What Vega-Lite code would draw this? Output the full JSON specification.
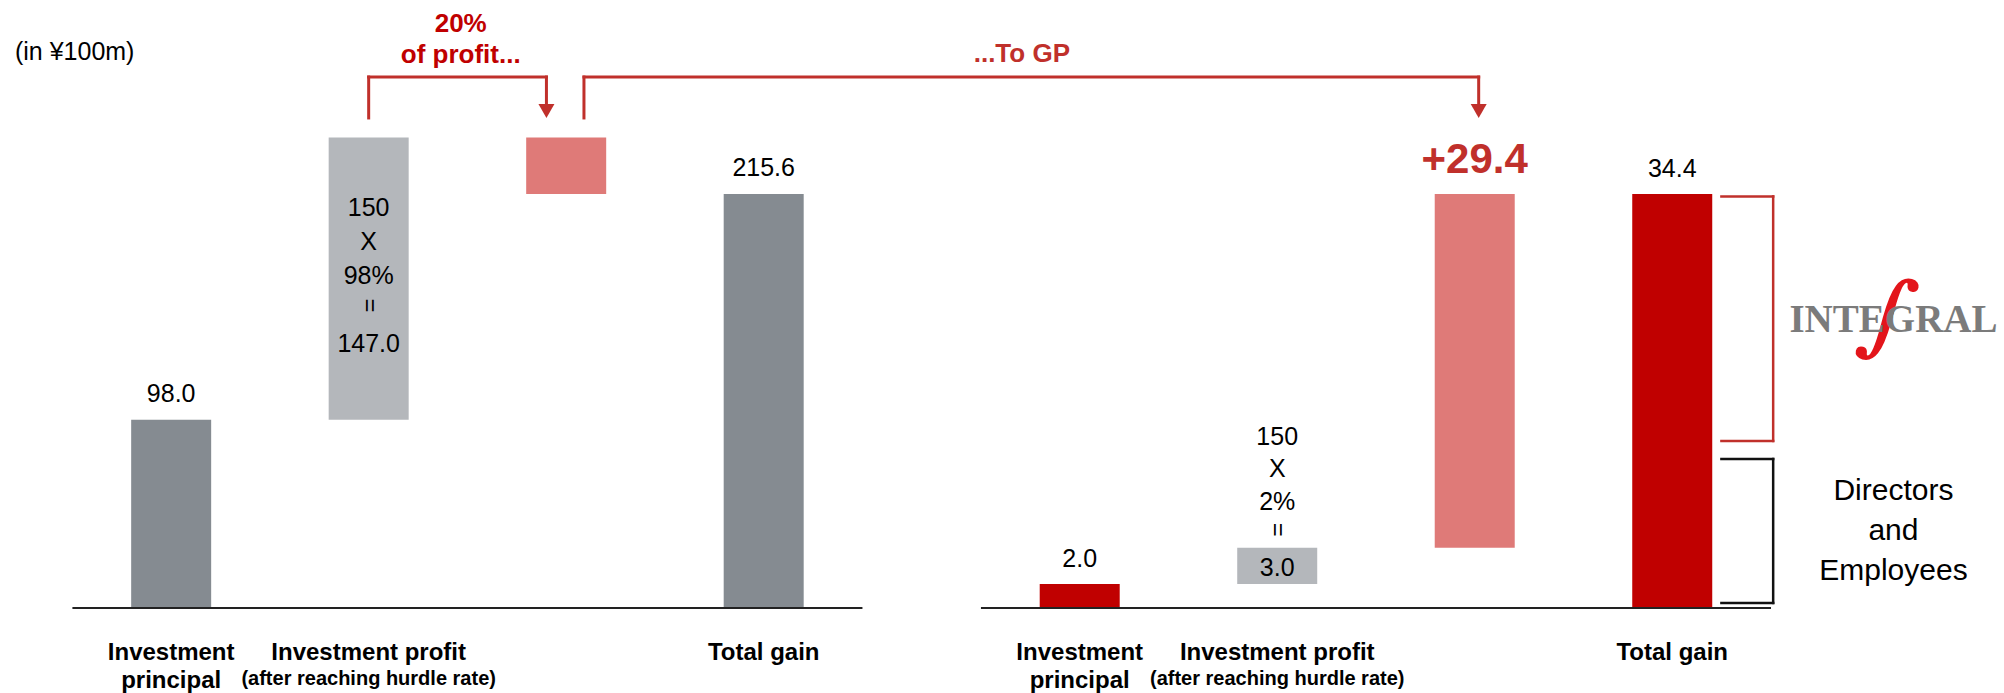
{
  "$schema": "https://vega.github.io/schema/vega-lite/v6.json",
  "width": 2004,
  "height": 693,
  "padding": 0,
  "autosize": {"type": "none"},
  "background": "white",
  "config": {"view": {"stroke": null}, "font": "Liberation Sans", "text": {"font": "Liberation Sans", "color": "#000000"}},
  "datasets": {
    "left": [
      {"step": "Investment principal", "pos": 0, "start": 0, "end": 98, "kind": "base", "label": "98.0"},
      {"step": "Investment profit", "pos": 1, "start": 98, "end": 245, "kind": "profit", "label": "147.0", "formula": "150\nX\n98%"},
      {"step": "Carried interest", "pos": 2, "start": 215.6, "end": 245, "kind": "carry", "label": "29.4"},
      {"step": "Total gain", "pos": 3, "start": 0, "end": 215.6, "kind": "base", "label": "215.6"}
    ],
    "right": [
      {"step": "Investment principal", "pos": 4.6, "start": 0, "end": 2, "kind": "lp", "label": "2.0"},
      {"step": "Investment profit", "pos": 5.6, "start": 2, "end": 5, "kind": "profit", "label": "3.0", "formula": "150\nX\n2%"},
      {"step": "Carried interest", "pos": 6.6, "start": 5, "end": 34.4, "kind": "carry", "label": "+29.4"},
      {"step": "Total gain", "pos": 7.6, "start": 0, "end": 34.4, "kind": "lp", "label": "34.4"}
    ],
    "cats": [
      {"pos": 0, "name": "Investment\nprincipal", "sub": ""},
      {"pos": 1, "name": "Investment profit", "sub": "(after reaching hurdle rate)"},
      {"pos": 3, "name": "Total gain", "sub": ""},
      {"pos": 4.6, "name": "Investment\nprincipal", "sub": ""},
      {"pos": 5.6, "name": "Investment profit", "sub": "(after reaching hurdle rate)"},
      {"pos": 7.6, "name": "Total gain", "sub": ""}
    ],
    "notes": [
      {"id": "unit", "text": "(in ¥100m)"},
      {"id": "share", "text": "20%\nof profit..."},
      {"id": "gp", "text": "...To GP"},
      {"id": "integral", "text": "∫"},
      {"id": "logo", "text": "INTEGRAL"},
      {"id": "staff", "text": "Directors\nand\nEmployees"}
    ]
  },
  "resolve": {"scale": {"y": "independent"}},
  "layer": [
    {
      "data": {"name": "left"},
      "layer": [
        {
          "mark": {"type": "bar", "width": 80},
          "encoding": {
            "x": {"field": "pos", "type": "quantitative", "scale": {"domain": [-0.8413, 9.2544], "nice": false, "zero": false}, "axis": null},
            "y": {"field": "end", "type": "quantitative", "scale": {"domain": [-44.27, 316.63], "nice": false, "zero": false}, "axis": null},
            "y2": {"field": "start"},
            "color": {"field": "kind", "type": "nominal", "scale": {"domain": ["base", "profit", "carry", "lp"], "range": ["#858B91", "#B4B7BB", "#DF7A78", "#C00000"]}, "legend": null}
          }
        },
        {
          "transform": [{"filter": "datum.kind == 'base'"}],
          "mark": {"type": "text", "fontSize": 25, "dy": -18, "baseline": "alphabetic", "align": "center"},
          "encoding": {
            "x": {"field": "pos", "type": "quantitative", "scale": {"domain": [-0.8413, 9.2544], "nice": false, "zero": false}, "axis": null},
            "y": {"field": "end", "type": "quantitative", "scale": {"domain": [-44.27, 316.63], "nice": false, "zero": false}, "axis": null},
            "text": {"field": "label", "type": "nominal"}
          }
        },
        {
          "transform": [{"filter": "datum.kind == 'profit'"}],
          "mark": {"type": "text", "fontSize": 25, "dy": 78, "baseline": "alphabetic", "align": "center", "lineBreak": "\n", "lineHeight": 34},
          "encoding": {
            "x": {"field": "pos", "type": "quantitative", "scale": {"domain": [-0.8413, 9.2544], "nice": false, "zero": false}, "axis": null},
            "y": {"field": "end", "type": "quantitative", "scale": {"domain": [-44.27, 316.63], "nice": false, "zero": false}, "axis": null},
            "text": {"field": "formula", "type": "nominal"}
          }
        },
        {
          "transform": [{"filter": "datum.kind == 'profit'"}],
          "mark": {"type": "text", "fontSize": 24, "dx": 168, "dy": 0, "angle": 90, "baseline": "middle", "align": "center"},
          "encoding": {
            "x": {"field": "pos", "type": "quantitative", "scale": {"domain": [-0.8413, 9.2544], "nice": false, "zero": false}, "axis": null},
            "y": {"field": "end", "type": "quantitative", "scale": {"domain": [-44.27, 316.63], "nice": false, "zero": false}, "axis": null},
            "text": {"value": "="}
          }
        },
        {
          "transform": [{"filter": "datum.kind == 'profit'"}],
          "mark": {"type": "text", "fontSize": 25, "dy": 214, "baseline": "alphabetic", "align": "center"},
          "encoding": {
            "x": {"field": "pos", "type": "quantitative", "scale": {"domain": [-0.8413, 9.2544], "nice": false, "zero": false}, "axis": null},
            "y": {"field": "end", "type": "quantitative", "scale": {"domain": [-44.27, 316.63], "nice": false, "zero": false}, "axis": null},
            "text": {"field": "label", "type": "nominal"}
          }
        },
        {
          "data": {"name": "cats"},
          "mark": {"type": "text", "fontSize": 24, "fontWeight": "bold", "baseline": "alphabetic", "align": "center", "lineBreak": "\n", "lineHeight": 28},
          "encoding": {
            "x": {"field": "pos", "type": "quantitative", "scale": {"domain": [-0.8413, 9.2544], "nice": false, "zero": false}, "axis": null},
            "y": {"datum": -27.08, "scale": {"domain": [-44.27, 316.63], "nice": false, "zero": false}, "axis": null},
            "text": {"field": "name", "type": "nominal"}
          }
        },
        {
          "data": {"name": "cats"},
          "transform": [{"filter": "datum.sub != ''"}],
          "mark": {"type": "text", "fontSize": 20, "fontWeight": "bold", "baseline": "alphabetic", "align": "center"},
          "encoding": {
            "x": {"field": "pos", "type": "quantitative", "scale": {"domain": [-0.8413, 9.2544], "nice": false, "zero": false}, "axis": null},
            "y": {"datum": -40.1, "scale": {"domain": [-44.27, 316.63], "nice": false, "zero": false}, "axis": null},
            "text": {"field": "sub", "type": "nominal"}
          }
        },
        {
          "data": {"values": [{}]},
          "mark": {"type": "rule", "color": "#222222", "strokeWidth": 2},
          "encoding": {
            "x": {"datum": -0.5, "scale": {"domain": [-0.8413, 9.2544], "nice": false, "zero": false}, "axis": null},
            "x2": {"datum": 3.5},
            "y": {"datum": 0, "scale": {"domain": [-44.27, 316.63], "nice": false, "zero": false}, "axis": null}
          }
        },
        {
          "data": {"name": "notes"},
          "transform": [{"filter": "datum.id == 'unit'"}],
          "mark": {"type": "text", "fontSize": 25, "align": "left", "baseline": "alphabetic"},
          "encoding": {
            "x": {"datum": -0.791, "scale": {"domain": [-0.8413, 9.2544], "nice": false, "zero": false}, "axis": null},
            "y": {"datum": 285.4, "scale": {"domain": [-44.27, 316.63], "nice": false, "zero": false}, "axis": null},
            "text": {"field": "text", "type": "nominal"}
          }
        },
        {
          "data": {"name": "notes"},
          "transform": [{"filter": "datum.id == 'share'"}],
          "mark": {"type": "text", "fontSize": 26, "fontWeight": "bold", "color": "#C00000", "align": "center", "baseline": "alphabetic", "lineBreak": "\n", "lineHeight": 31},
          "encoding": {
            "x": {"datum": 1.466, "scale": {"domain": [-0.8413, 9.2544], "nice": false, "zero": false}, "axis": null},
            "y": {"datum": 300.0, "scale": {"domain": [-44.27, 316.63], "nice": false, "zero": false}, "axis": null},
            "text": {"field": "text", "type": "nominal"}
          }
        },
        {
          "data": {"name": "notes"},
          "transform": [{"filter": "datum.id == 'gp'"}],
          "mark": {"type": "text", "fontSize": 26, "fontWeight": "bold", "color": "#C0302B", "align": "center", "baseline": "alphabetic"},
          "encoding": {
            "x": {"datum": 4.307, "scale": {"domain": [-0.8413, 9.2544], "nice": false, "zero": false}, "axis": null},
            "y": {"datum": 284.3, "scale": {"domain": [-44.27, 316.63], "nice": false, "zero": false}, "axis": null},
            "text": {"field": "text", "type": "nominal"}
          }
        },
        {
          "data": {"values": [{}]},
          "mark": {"type": "rule", "color": "#C0302B", "strokeWidth": 3, "strokeCap": "square"},
          "encoding": {
            "x": {"datum": 1.0, "scale": {"domain": [-0.8413, 9.2544], "nice": false, "zero": false}, "axis": null},
            "y": {"datum": 255.2, "scale": {"domain": [-44.27, 316.63], "nice": false, "zero": false}, "axis": null},
            "y2": {"datum": 276.5}
          }
        },
        {
          "data": {"values": [{}]},
          "mark": {"type": "rule", "color": "#C0302B", "strokeWidth": 3, "strokeCap": "square"},
          "encoding": {
            "x": {"datum": 1.0, "scale": {"domain": [-0.8413, 9.2544], "nice": false, "zero": false}, "axis": null},
            "x2": {"datum": 1.9},
            "y": {"datum": 276.5, "scale": {"domain": [-44.27, 316.63], "nice": false, "zero": false}, "axis": null}
          }
        },
        {
          "data": {"values": [{}]},
          "mark": {"type": "rule", "color": "#C0302B", "strokeWidth": 3, "strokeCap": "square"},
          "encoding": {
            "x": {"datum": 1.9, "scale": {"domain": [-0.8413, 9.2544], "nice": false, "zero": false}, "axis": null},
            "y": {"datum": 258.8, "scale": {"domain": [-44.27, 316.63], "nice": false, "zero": false}, "axis": null},
            "y2": {"datum": 276.5}
          }
        },
        {
          "data": {"values": [{}]},
          "mark": {"type": "rule", "color": "#C0302B", "strokeWidth": 3, "strokeCap": "square"},
          "encoding": {
            "x": {"datum": 2.09, "scale": {"domain": [-0.8413, 9.2544], "nice": false, "zero": false}, "axis": null},
            "y": {"datum": 255.2, "scale": {"domain": [-44.27, 316.63], "nice": false, "zero": false}, "axis": null},
            "y2": {"datum": 276.5}
          }
        },
        {
          "data": {"values": [{}]},
          "mark": {"type": "rule", "color": "#C0302B", "strokeWidth": 3, "strokeCap": "square"},
          "encoding": {
            "x": {"datum": 2.09, "scale": {"domain": [-0.8413, 9.2544], "nice": false, "zero": false}, "axis": null},
            "x2": {"datum": 6.62},
            "y": {"datum": 276.5, "scale": {"domain": [-44.27, 316.63], "nice": false, "zero": false}, "axis": null}
          }
        },
        {
          "data": {"values": [{}]},
          "mark": {"type": "rule", "color": "#C0302B", "strokeWidth": 3, "strokeCap": "square"},
          "encoding": {
            "x": {"datum": 6.62, "scale": {"domain": [-0.8413, 9.2544], "nice": false, "zero": false}, "axis": null},
            "y": {"datum": 258.8, "scale": {"domain": [-44.27, 316.63], "nice": false, "zero": false}, "axis": null},
            "y2": {"datum": 276.5}
          }
        },
        {
          "data": {"values": [{"at": 1.9}, {"at": 6.62}]},
          "mark": {"type": "point", "shape": "triangle-down", "filled": true, "size": 256, "color": "#C0302B", "opacity": 1, "strokeWidth": 0},
          "encoding": {
            "x": {"field": "at", "type": "quantitative", "scale": {"domain": [-0.8413, 9.2544], "nice": false, "zero": false}, "axis": null},
            "y": {"datum": 258.8, "scale": {"domain": [-44.27, 316.63], "nice": false, "zero": false}, "axis": null}
          }
        }
      ]
    },
    {
      "data": {"name": "right"},
      "layer": [
        {
          "mark": {"type": "bar", "width": 80},
          "encoding": {
            "x": {"field": "pos", "type": "quantitative", "scale": {"domain": [-0.8413, 9.2544], "nice": false, "zero": false}, "axis": null},
            "y": {"field": "end", "type": "quantitative", "scale": {"domain": [-7.063, 50.52], "nice": false, "zero": false}, "axis": null},
            "y2": {"field": "start"},
            "color": {"field": "kind", "type": "nominal", "scale": {"domain": ["base", "profit", "carry", "lp"], "range": ["#858B91", "#B4B7BB", "#DF7A78", "#C00000"]}, "legend": null}
          }
        },
        {
          "transform": [{"filter": "datum.kind == 'lp'"}],
          "mark": {"type": "text", "fontSize": 25, "dy": -17, "baseline": "alphabetic", "align": "center"},
          "encoding": {
            "x": {"field": "pos", "type": "quantitative", "scale": {"domain": [-0.8413, 9.2544], "nice": false, "zero": false}, "axis": null},
            "y": {"field": "end", "type": "quantitative", "scale": {"domain": [-7.063, 50.52], "nice": false, "zero": false}, "axis": null},
            "text": {"field": "label", "type": "nominal"}
          }
        },
        {
          "transform": [{"filter": "datum.kind == 'carry'"}],
          "mark": {"type": "text", "fontSize": 42, "fontWeight": "bold", "color": "#C0302B", "dy": -21, "baseline": "alphabetic", "align": "center"},
          "encoding": {
            "x": {"field": "pos", "type": "quantitative", "scale": {"domain": [-0.8413, 9.2544], "nice": false, "zero": false}, "axis": null},
            "y": {"field": "end", "type": "quantitative", "scale": {"domain": [-7.063, 50.52], "nice": false, "zero": false}, "axis": null},
            "text": {"field": "label", "type": "nominal"}
          }
        },
        {
          "transform": [{"filter": "datum.kind == 'profit'"}],
          "mark": {"type": "text", "fontSize": 25, "dy": -103, "baseline": "alphabetic", "align": "center", "lineBreak": "\n", "lineHeight": 32.5},
          "encoding": {
            "x": {"field": "pos", "type": "quantitative", "scale": {"domain": [-0.8413, 9.2544], "nice": false, "zero": false}, "axis": null},
            "y": {"field": "end", "type": "quantitative", "scale": {"domain": [-7.063, 50.52], "nice": false, "zero": false}, "axis": null},
            "text": {"field": "formula", "type": "nominal"}
          }
        },
        {
          "transform": [{"filter": "datum.kind == 'profit'"}],
          "mark": {"type": "text", "fontSize": 24, "dx": -18, "dy": 0, "angle": 90, "baseline": "middle", "align": "center"},
          "encoding": {
            "x": {"field": "pos", "type": "quantitative", "scale": {"domain": [-0.8413, 9.2544], "nice": false, "zero": false}, "axis": null},
            "y": {"field": "end", "type": "quantitative", "scale": {"domain": [-7.063, 50.52], "nice": false, "zero": false}, "axis": null},
            "text": {"value": "="}
          }
        },
        {
          "transform": [{"filter": "datum.kind == 'profit'"}],
          "mark": {"type": "text", "fontSize": 25, "dy": 20, "baseline": "middle", "align": "center"},
          "encoding": {
            "x": {"field": "pos", "type": "quantitative", "scale": {"domain": [-0.8413, 9.2544], "nice": false, "zero": false}, "axis": null},
            "y": {"field": "end", "type": "quantitative", "scale": {"domain": [-7.063, 50.52], "nice": false, "zero": false}, "axis": null},
            "text": {"field": "label", "type": "nominal"}
          }
        },
        {
          "data": {"values": [{}]},
          "mark": {"type": "rule", "color": "#222222", "strokeWidth": 2},
          "encoding": {
            "x": {"datum": 4.1, "scale": {"domain": [-0.8413, 9.2544], "nice": false, "zero": false}, "axis": null},
            "x2": {"datum": 8.1},
            "y": {"datum": 0, "scale": {"domain": [-7.063, 50.52], "nice": false, "zero": false}, "axis": null}
          }
        },
        {
          "data": {"values": [{"top": 34.2, "bottom": 13.88}]},
          "layer": [
            {
              "mark": {"type": "rule", "color": "#C0302B", "strokeWidth": 2.5, "strokeCap": "square"},
              "encoding": {
                "x": {"datum": 7.849, "scale": {"domain": [-0.8413, 9.2544], "nice": false, "zero": false}, "axis": null},
                "x2": {"datum": 8.111},
                "y": {"field": "top", "type": "quantitative", "scale": {"domain": [-7.063, 50.52], "nice": false, "zero": false}, "axis": null}
              }
            },
            {
              "mark": {"type": "rule", "color": "#C0302B", "strokeWidth": 2.5, "strokeCap": "square"},
              "encoding": {
                "x": {"datum": 7.849, "scale": {"domain": [-0.8413, 9.2544], "nice": false, "zero": false}, "axis": null},
                "x2": {"datum": 8.111},
                "y": {"field": "bottom", "type": "quantitative", "scale": {"domain": [-7.063, 50.52], "nice": false, "zero": false}, "axis": null}
              }
            },
            {
              "mark": {"type": "rule", "color": "#C0302B", "strokeWidth": 2.5, "strokeCap": "square"},
              "encoding": {
                "x": {"datum": 8.111, "scale": {"domain": [-0.8413, 9.2544], "nice": false, "zero": false}, "axis": null},
                "y": {"field": "top", "type": "quantitative", "scale": {"domain": [-7.063, 50.52], "nice": false, "zero": false}, "axis": null},
                "y2": {"field": "bottom"}
              }
            }
          ]
        },
        {
          "data": {"values": [{"top": 12.38, "bottom": 0.42}]},
          "layer": [
            {
              "mark": {"type": "rule", "color": "#111111", "strokeWidth": 2.5, "strokeCap": "square"},
              "encoding": {
                "x": {"datum": 7.849, "scale": {"domain": [-0.8413, 9.2544], "nice": false, "zero": false}, "axis": null},
                "x2": {"datum": 8.111},
                "y": {"field": "top", "type": "quantitative", "scale": {"domain": [-7.063, 50.52], "nice": false, "zero": false}, "axis": null}
              }
            },
            {
              "mark": {"type": "rule", "color": "#111111", "strokeWidth": 2.5, "strokeCap": "square"},
              "encoding": {
                "x": {"datum": 7.849, "scale": {"domain": [-0.8413, 9.2544], "nice": false, "zero": false}, "axis": null},
                "x2": {"datum": 8.111},
                "y": {"field": "bottom", "type": "quantitative", "scale": {"domain": [-7.063, 50.52], "nice": false, "zero": false}, "axis": null}
              }
            },
            {
              "mark": {"type": "rule", "color": "#111111", "strokeWidth": 2.5, "strokeCap": "square"},
              "encoding": {
                "x": {"datum": 8.111, "scale": {"domain": [-0.8413, 9.2544], "nice": false, "zero": false}, "axis": null},
                "y": {"field": "top", "type": "quantitative", "scale": {"domain": [-7.063, 50.52], "nice": false, "zero": false}, "axis": null},
                "y2": {"field": "bottom"}
              }
            }
          ]
        },
        {
          "data": {"name": "notes"},
          "transform": [{"filter": "datum.id == 'integral'"}],
          "mark": {"type": "text", "font": "DejaVu Serif", "fontSize": 96, "fontStyle": "italic", "color": "#E3151B", "angle": 14, "align": "center", "baseline": "middle"},
          "encoding": {
            "x": {"datum": 8.69, "scale": {"domain": [-0.8413, 9.2544], "nice": false, "zero": false}, "axis": null},
            "y": {"datum": 24.1, "scale": {"domain": [-7.063, 50.52], "nice": false, "zero": false}, "axis": null},
            "text": {"field": "text", "type": "nominal"}
          }
        },
        {
          "data": {"name": "notes"},
          "transform": [{"filter": "datum.id == 'logo'"}],
          "mark": {"type": "text", "font": "Liberation Serif", "fontSize": 39, "fontWeight": "bold", "color": "#7B7B7B", "align": "center", "baseline": "alphabetic"},
          "encoding": {
            "x": {"datum": 8.72, "scale": {"domain": [-0.8413, 9.2544], "nice": false, "zero": false}, "axis": null},
            "y": {"datum": 22.93, "scale": {"domain": [-7.063, 50.52], "nice": false, "zero": false}, "axis": null},
            "text": {"field": "text", "type": "nominal"}
          }
        },
        {
          "data": {"name": "notes"},
          "transform": [{"filter": "datum.id == 'staff'"}],
          "mark": {"type": "text", "fontSize": 30, "align": "center", "baseline": "alphabetic", "lineBreak": "\n", "lineHeight": 40},
          "encoding": {
            "x": {"datum": 8.72, "scale": {"domain": [-0.8413, 9.2544], "nice": false, "zero": false}, "axis": null},
            "y": {"datum": 8.97, "scale": {"domain": [-7.063, 50.52], "nice": false, "zero": false}, "axis": null},
            "text": {"field": "text", "type": "nominal"}
          }
        }
      ]
    }
  ]
}
